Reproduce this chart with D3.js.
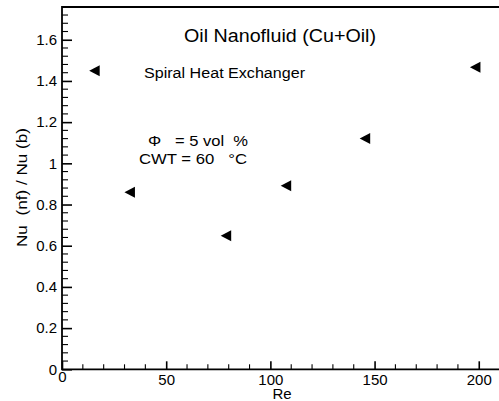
<!DOCTYPE html>
<html>
<head>
<meta charset="utf-8">
<script src="https://cdn.jsdelivr.net/npm/d3@7/dist/d3.min.js"></script>
<style>
  html, body { margin: 0; padding: 0; background: #fff; }
  svg text { font-family: "Liberation Sans", Arial, sans-serif; fill: #000; }
</style>
</head>
<body>
<svg id="chart" width="499" height="401"></svg>
<script>
// Nusselt number ratio vs Reynolds number, Cu+oil nanofluid
const reynolds = [15.7, 32.6, 78.8, 107.6, 145.5, 198.4];
const nuRatio  = [1.45, 0.86, 0.649, 0.891, 1.121, 1.466];
const xTicks = [0, 50, 100, 150, 200];
const yTicks = [0, 0.2, 0.4, 0.6, 0.8, 1, 1.2, 1.4, 1.6];
const yTickLabels = ["0", "0.2", "0.4", "0.6", "0.8", "1", "1.2", "1.4", "1.6"];

const svg = d3.select("#chart");
const plotLeft = 62, plotTop = 7, plotBottom = 369.3;

const x = d3.scaleLinear().domain([0, 210]).range([plotLeft, plotLeft + 437.6]);
const y = d3.scaleLinear().domain([0, 1.759]).range([plotBottom, plotTop]);

// minor ticks
const xMinor = d3.range(0, 211, 10).filter(v => v % 50 !== 0);
const yMinor = d3.range(0, 1.76, 0.04).filter(v => Math.abs(v / 0.2 - Math.round(v / 0.2)) > 1e-6);

// x axis (ticks point inward)
const xAxis = d3.axisBottom(x).tickValues(xTicks).tickSize(-8).tickPadding(15.3)
  .tickFormat(d3.format("d"));
const gx = svg.append("g").attr("transform", `translate(0,${plotBottom})`).call(xAxis);
gx.select(".domain").remove();
gx.selectAll(".tick line").attr("stroke", "#000").attr("stroke-width", 1.6);
gx.selectAll(".tick text").attr("font-size", 15).attr("dy", "0");
gx.selectAll(".tick text").filter(d => d === 0).attr("dy", "-0.15em");
gx.selectAll(".minor").data(xMinor).enter().append("line")
  .attr("x1", d => x(d)).attr("x2", d => x(d)).attr("y1", 0).attr("y2", -5)
  .attr("stroke", "#000").attr("stroke-width", 1.1);

// y axis (ticks point inward)
const yAxis = d3.axisLeft(y).tickValues(yTicks).tickSize(-10).tickPadding(5)
  .tickFormat((d, i) => yTickLabels[i]);
const gy = svg.append("g").attr("transform", `translate(${plotLeft},0)`).call(yAxis);
gy.select(".domain").remove();
gy.selectAll(".tick line").attr("stroke", "#000").attr("stroke-width", 1.6);
gy.selectAll(".tick text").attr("font-size", 15);
gy.selectAll(".minor").data(yMinor).enter().append("line")
  .attr("y1", d => y(d)).attr("y2", d => y(d)).attr("x1", 0).attr("x2", 6)
  .attr("stroke", "#000").attr("stroke-width", 1.1);

// frame lines: left, top, bottom
svg.append("path")
  .attr("d", `M${x(210)},${plotTop}H${plotLeft}V${plotBottom}H${x(210)}`)
  .attr("fill", "none").attr("stroke", "#000").attr("stroke-width", 1.8);

// markers: left-pointing triangles
const tri = "M-5.5,0L5,-5.5L5,5.5Z";
svg.append("g").selectAll("path").data(reynolds).enter().append("path")
  .attr("d", tri)
  .attr("transform", (d, i) => `translate(${x(d)},${y(nuRatio[i])})`)
  .attr("fill", "#000");

// annotations (glyphs stretched to the wide face of the original type)
svg.append("text").attr("x", 184).attr("y", 42)
  .attr("font-size", 17.5).attr("textLength", 192).attr("lengthAdjust", "spacingAndGlyphs")
  .text("Oil Nanofluid (Cu+Oil)");
svg.append("text").attr("x", 144).attr("y", 78).attr("font-size", 14)
  .attr("textLength", 161).attr("lengthAdjust", "spacingAndGlyphs")
  .text("Spiral Heat Exchanger");
svg.append("text").attr("x", 148).attr("y", 146).attr("font-size", 14)
  .attr("textLength", 100).attr("lengthAdjust", "spacingAndGlyphs")
  .attr("xml:space", "preserve").text("Φ   = 5 vol  %");
svg.append("text").attr("x", 139).attr("y", 164).attr("font-size", 14)
  .attr("textLength", 108).attr("lengthAdjust", "spacingAndGlyphs")
  .attr("xml:space", "preserve").text("CWT = 60   °C");

// axis titles
svg.append("text").attr("x", 282).attr("y", 399).attr("text-anchor", "middle")
  .attr("font-size", 15).text("Re");
svg.append("text").attr("transform", "translate(26.5,187.5) rotate(-90)")
  .attr("text-anchor", "middle").attr("font-size", 15)
  .attr("textLength", 119).attr("lengthAdjust", "spacingAndGlyphs")
  .attr("xml:space", "preserve").text("Nu  (nf) / Nu (b)");
</script>
</body>
</html>
